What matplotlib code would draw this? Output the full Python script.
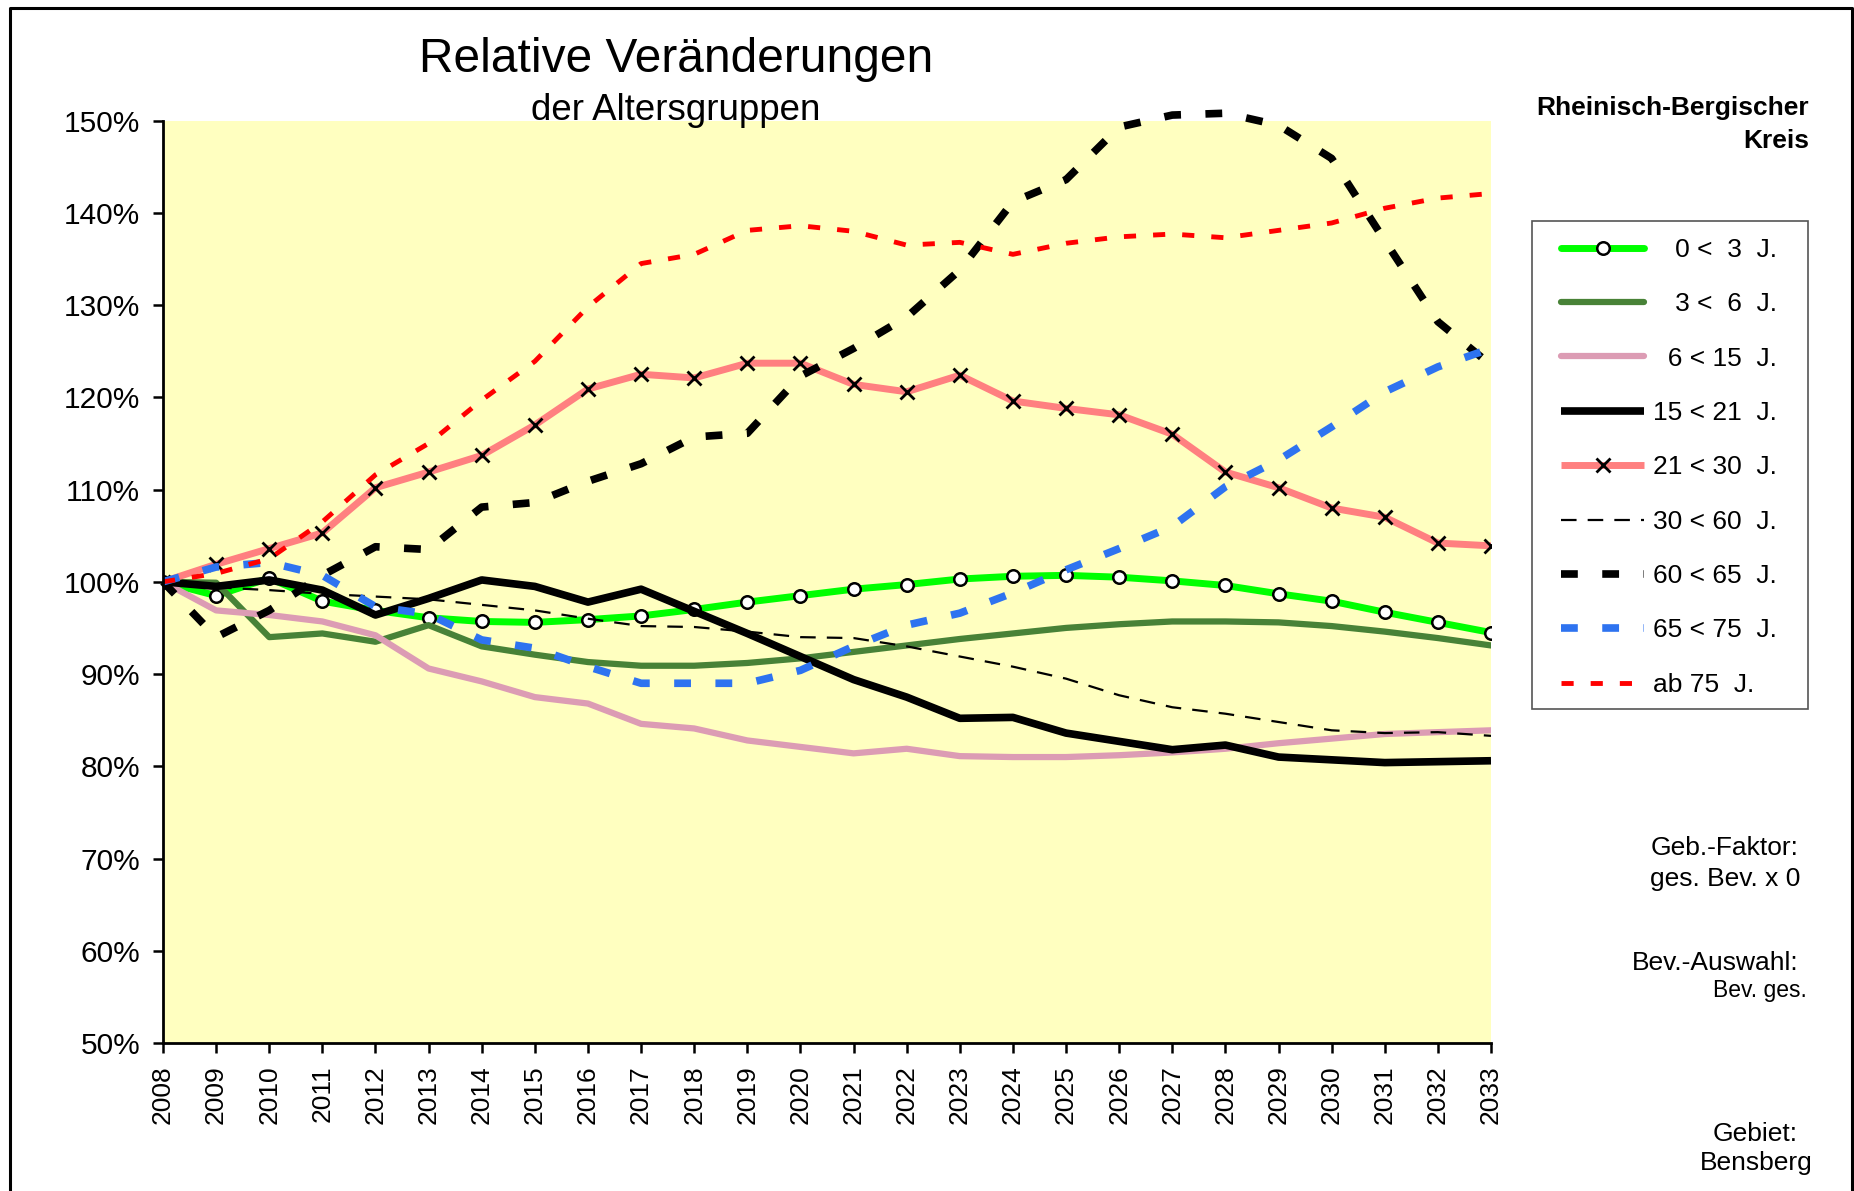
import matplotlib
matplotlib.use("Agg")
import matplotlib.pyplot as plt
from matplotlib.lines import Line2D
from matplotlib.patches import Rectangle
from matplotlib.ticker import FuncFormatter

plt.rcParams['font.family'] = ['Liberation Sans', 'DejaVu Sans']

# data (percent of 2008)
years = list(range(2008, 2034))

g0_3 = [100.0, 98.5, 100.4, 97.9, 96.9, 96.1, 95.7, 95.6, 95.9, 96.3, 97.0, 97.8, 98.5,
        99.2, 99.7, 100.3, 100.6, 100.7, 100.5, 100.1, 99.6, 98.7, 97.9, 96.7, 95.6, 94.5]
g3_6 = [100.0, 99.9, 94.0, 94.4, 93.5, 95.3, 93.0, 92.1, 91.3, 90.9, 90.9, 91.2, 91.7,
        92.4, 93.1, 93.8, 94.4, 95.0, 95.4, 95.7, 95.7, 95.6, 95.2, 94.6, 93.9, 93.1]
g6_15 = [100.0, 96.9, 96.4, 95.7, 94.2, 90.6, 89.2, 87.5, 86.8, 84.6, 84.1, 82.8, 82.1,
         81.4, 81.9, 81.1, 81.0, 81.0, 81.2, 81.5, 81.9, 82.5, 83.0, 83.5, 83.7, 83.9]
g15_21 = [100.0, 99.5, 100.2, 99.1, 96.4, 98.2, 100.2, 99.5, 97.8, 99.2, 96.8, 94.4, 91.9,
          89.4, 87.5, 85.2, 85.3, 83.6, 82.7, 81.8, 82.3, 81.0, 80.7, 80.4, 80.5, 80.6]
g21_30 = [100.0, 101.9, 103.6, 105.3, 110.2, 111.9, 113.7, 117.0, 120.9, 122.5, 122.1, 123.7, 123.7,
          121.4, 120.6, 122.4, 119.6, 118.8, 118.1, 116.0, 111.9, 110.2, 108.0, 107.0, 104.2, 103.9]
g30_60 = [100.0, 99.4, 99.1, 98.7, 98.4, 98.1, 97.5, 96.9, 96.0, 95.2, 95.1, 94.6, 94.0,
          93.9, 93.0, 91.9, 90.8, 89.5, 87.7, 86.4, 85.7, 84.8, 83.9, 83.6, 83.7, 83.3]
g60_65 = [100.0, 94.0, 96.9, 100.7, 103.8, 103.5, 108.1, 108.6, 110.9, 112.8, 115.7, 116.1, 122.3,
          125.3, 128.7, 133.8, 141.2, 143.6, 149.3, 150.6, 150.8, 149.5, 145.9, 137.0, 128.2, 123.5]
g65_75 = [100.0, 101.6, 102.1, 100.7, 97.3, 96.5, 93.7, 92.8, 90.8, 89.0, 89.0, 89.0, 90.4,
          93.0, 95.3, 96.6, 98.8, 101.3, 103.6, 106.0, 110.3, 113.2, 116.8, 120.6, 123.3, 125.3]
g75 = [100.0, 100.9, 102.5, 106.5, 111.6, 115.0, 119.7, 123.9, 129.8, 134.5, 135.5, 138.1, 138.6,
       138.0, 136.5, 136.8, 135.5, 136.7, 137.4, 137.7, 137.3, 138.1, 138.9, 140.5, 141.6, 142.1]

labels = ["   0 <  3  J.", "   3 <  6  J.", "  6 < 15  J.", "15 < 21  J.", "21 < 30  J.",
          "30 < 60  J.", "60 < 65  J.", "65 < 75  J.", "ab 75  J."]

W, H = 1854, 1191
fig = plt.figure(figsize=(W / 100, H / 100), dpi=100)
ax = fig.add_axes([163 / W, 1 - 1043 / H, (1491 - 163) / W, (1043 - 120.6) / H])
ax.set_facecolor('#FFFFC0')

ax.plot(years, g0_3, color='#00FF00', lw=5, solid_capstyle='round', marker='o', ms=9,
        mfc='white', mec='black', mew=1.8, label=labels[0])
ax.plot(years, g3_6, color='#488237', lw=4.5, solid_capstyle='round', label=labels[1])
ax.plot(years, g6_15, color='#DC9CB4', lw=4.5, solid_capstyle='round', label=labels[2])
ax.plot(years, g15_21, color='black', lw=5.5, solid_capstyle='butt', label=labels[3])
ax.plot(years, g21_30, color='#FF8080', lw=5, solid_capstyle='butt', marker='x', ms=10,
        mec='black', mew=2, label=labels[4])
ax.plot(years, g30_60, color='black', lw=1.6, dashes=(7, 5), label=labels[5])
ax.plot(years, g60_65, color='black', lw=5.5, dashes=(2.2, 3.2), label=labels[6], clip_on=False)
ax.plot(years, g65_75, color='#2E73F0', lw=5.5, dashes=(2.2, 3.2), label=labels[7])
ax.plot(years, g75, color='#FF0000', lw=3.5, dashes=(2.5, 3.5), label=labels[8])

ax.set_xlim(2008, 2033)
ax.set_ylim(50, 150)
ax.set_xticks(years)
ax.set_xticklabels([str(y) for y in years], rotation=90)
ax.set_yticks(range(50, 151, 10))
ax.yaxis.set_major_formatter(FuncFormatter(lambda v, p: '%d%%' % v))
for s in ['top', 'right']:
    ax.spines[s].set_visible(False)
for s in ['left', 'bottom']:
    ax.spines[s].set_linewidth(2)
ax.tick_params(axis='both', direction='out', length=7, width=1.8, color='black')
ax.tick_params(axis='y', labelsize=21.5, pad=9.5)
ax.tick_params(axis='x', labelsize=19, pad=9)

# legend box drawn separately so its padding matches the original
fig.add_artist(Rectangle((1532 / W, 1 - 709 / H), (1808 - 1532) / W, (709 - 221) / H,
                         transform=fig.transFigure, facecolor='white', edgecolor='#555555',
                         lw=1.2, zorder=2))
leg = fig.legend(loc='upper left', bbox_to_anchor=(1561 / W, 1 - 238 / H),
                 bbox_transform=fig.transFigure, fontsize=19, frameon=False,
                 numpoints=1, handlelength=3.15, handletextpad=0.35,
                 labelspacing=1.15, borderpad=0, borderaxespad=0)
leg.set_zorder(3)

# titles
fig.text(676 / W, 1 - 59.5 / H, 'Relative Veränderungen', ha='center', va='center', fontsize=34.5)
fig.text(676 / W, 1 - 111 / H, 'der Altersgruppen', ha='center', va='center', fontsize=26.4)

# side notes
fig.text(1809 / W, 1 - 108 / H, 'Rheinisch-Bergischer', ha='right', va='center',
         fontsize=19, fontweight='bold')
fig.text(1809 / W, 1 - 141 / H, 'Kreis', ha='right', va='center', fontsize=19, fontweight='bold')
fig.text(1798 / W, 1 - 848 / H, 'Geb.-Faktor:', ha='right', va='center', fontsize=19)
fig.text(1800 / W, 1 - 879 / H, 'ges. Bev. x 0', ha='right', va='center', fontsize=19)
fig.text(1798 / W, 1 - 963 / H, 'Bev.-Auswahl:', ha='right', va='center', fontsize=19)
fig.text(1807 / W, 1 - 990 / H, 'Bev. ges.', ha='right', va='center', fontsize=16.5)
fig.text(1798 / W, 1 - 1134 / H, 'Gebiet:', ha='right', va='center', fontsize=19)
fig.text(1813 / W, 1 - 1163 / H, 'Bensberg', ha='right', va='center', fontsize=19)

# outer frame (open at the bottom)
fig.add_artist(Line2D([10 / W, 10 / W, 1851.5 / W, 1851.5 / W], [0, 1 - 8 / H, 1 - 8 / H, 0],
                      transform=fig.transFigure, color='black', lw=2.2))

fig.savefig('out.png', dpi=100)
